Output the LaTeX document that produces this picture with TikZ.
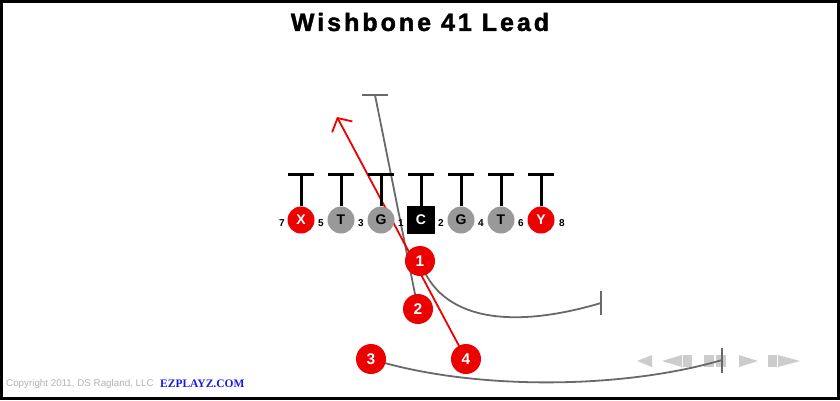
\documentclass[tikz,border=0pt]{standalone}
\usepackage{fontspec}
\setmainfont{Liberation Sans}
\newfontfamily\titlefont{Liberation Sans}[LetterSpace=12,BoldFeatures={FakeBold=1.6}]
\newfontfamily\linkfont{Liberation Serif}
\usetikzlibrary{arrows.meta}
\pgfdeclarelayer{back}
\pgfsetlayers{back,main}
\definecolor{playred}{RGB}{236,0,0}
\definecolor{playgray}{RGB}{153,153,153}
\definecolor{routegray}{RGB}{105,105,105}
\definecolor{linkblue}{RGB}{24,24,232}
\tikzset{
 redman/.style={circle,fill=playred,minimum size=27,inner sep=0,text=white,font=\fontsize{14}{14}\selectfont\bfseries},
 grayman/.style={circle,fill=playgray,minimum size=27,inner sep=0,text=black,font=\fontsize{14}{14}\selectfont\bfseries},
 centerman/.style={rectangle,fill=black,minimum size=28,inner sep=0,text=white,font=\fontsize{14}{14}\selectfont\bfseries},
 backman/.style={circle,fill=playred,minimum size=30,inner sep=0,text=white,font=\fontsize{15.5}{15.5}\selectfont\bfseries},
 gapnum/.style={inner sep=0,font=\fontsize{10}{10}\selectfont\bfseries},
 block/.style={line width=3pt,black},
 route/.style={line width=1.8pt,routegray},
 lead/.style={line width=1.8pt,playred,-{Straight Barb[length=10pt,width=23pt]}},
 control/.style={fill=gray!40,draw=none}
}
\begin{document}
\begin{tikzpicture}[x=1pt,y=-1pt]
 \useasboundingbox (0,0) rectangle (840,400);
 \draw[line width=3pt] (1.5,1.5) rectangle (838.5,398.5);
 \node (title) at (420,22) {\titlefont\fontsize{25}{25}\selectfont\bfseries Wishbone 41 Lead};

 \node[redman] (X) at (301,220) {X};
 \node[grayman] (LT) at (341,220) {T};
 \node[grayman] (LG) at (381,220) {G};
 \node[centerman] (C) at (421,220) {C};
 \node[grayman] (RG) at (461,220) {G};
 \node[grayman] (RT) at (501,220) {T};
 \node[redman] (Y) at (541,220) {Y};

 \node[gapnum] (n7) at (282,223) {7};
 \node[gapnum] (n5) at (321,223) {5};
 \node[gapnum] (n3) at (361,223) {3};
 \node[gapnum] (n1) at (401,223) {1};
 \node[gapnum] (n2) at (441,223) {2};
 \node[gapnum] (n4) at (481,223) {4};
 \node[gapnum] (n6) at (521,223) {6};
 \node[gapnum] (n8) at (562,223) {8};

 \node[backman] (b1) at (420,261) {1};
 \node[backman] (b2) at (418,309) {2};
 \node[backman] (b3) at (371,359) {3};
 \node[backman] (b4) at (466,359) {4};

 \coordinate (e1) at (601,303);
 \coordinate (e2) at (375,95);
 \coordinate (e3) at (722,360);
 \coordinate (e4) at (337,117);

 \draw[block] (X.north) -- ++(0,-32) ++(-13,0) -- ++(26,0);
 \draw[block] (LT.north) -- ++(0,-32) ++(-13,0) -- ++(26,0);
 \draw[block] (LG.north) -- ++(0,-32) ++(-13,0) -- ++(26,0);
 \draw[block] (C.north) -- ++(0,-31) ++(-13,0) -- ++(26,0);
 \draw[block] (RG.north) -- ++(0,-32) ++(-13,0) -- ++(26,0);
 \draw[block] (RT.north) -- ++(0,-32) ++(-13,0) -- ++(26,0);
 \draw[block] (Y.north) -- ++(0,-32) ++(-13,0) -- ++(26,0);

 \begin{pgfonlayer}{back}
 \fill[control] (652,355) -- (652,367) -- (637,361) -- cycle;
 \fill[control] (682,355) -- (682,367) -- (662,361) -- cycle;
 \fill[control] (683,355) rectangle (692,367);
 \fill[control] (704,355) rectangle (714,367);
 \fill[control] (716,355) rectangle (726,367);
 \fill[control] (739,355) -- (739,367) -- (758,361) -- cycle;
 \fill[control] (768,355) rectangle (777,367);
 \fill[control] (778,355) -- (778,367) -- (800,361) -- cycle;

 \draw[route] (b1.center) .. controls (440,320) and (510,330) .. (e1);
 \draw[route] ([yshift=-12]e1) -- ([yshift=12]e1);
 \draw[route] (b2.center) -- (e2);
 \draw[route] ([xshift=-13]e2) -- ([xshift=13]e2);
 \draw[route] (b3.center) .. controls (470,390) and (620,390) .. (e3);
 \draw[route] ([yshift=-12.5]e3) -- ([yshift=12.5]e3);
 \draw[lead] (b4.center) -- (e4);
 \end{pgfonlayer}

 \node[anchor=west,inner sep=0,text=gray!60,font=\fontsize{9.8}{9.8}\selectfont] (copy) at (6,384) {Copyright 2011, DS Ragland, LLC};
 \node[anchor=west,inner sep=0,text=linkblue,font=\linkfont\fontsize{11.5}{11.5}\selectfont\bfseries] (site) at (160,384) {EZPLAYZ.COM};
\end{tikzpicture}
\end{document}
